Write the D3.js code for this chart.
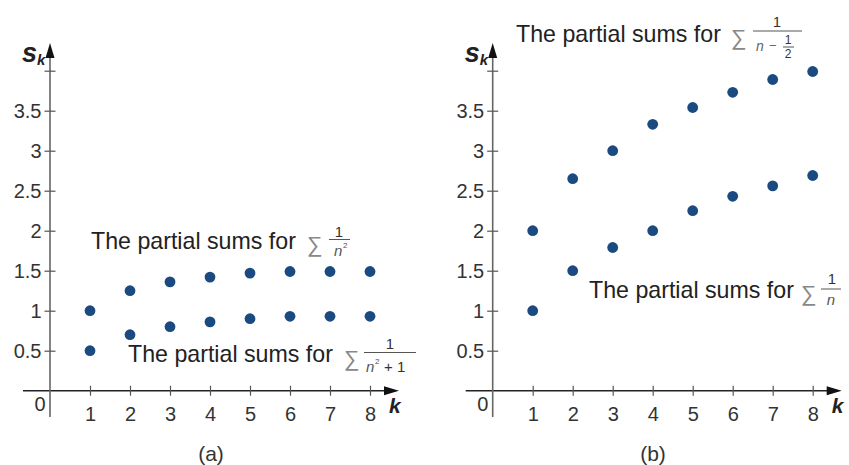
<!DOCTYPE html>
<html>
<head>
<meta charset="utf-8">
<script src="https://cdn.jsdelivr.net/npm/d3@7"></script>
<style>
  html, body { margin: 0; padding: 0; background: #fff; }
  svg { display: block; }
  text { font-family: "Liberation Sans", Arial, sans-serif; }
</style>
</head>
<body>
<svg id="chart" width="849" height="465"></svg>
<script>
// ---------- data ----------
const kValues = [1, 2, 3, 4, 5, 6, 7, 8];
// panel (a)
const sumInvSquare = [1, 1.25, 1.36, 1.42, 1.47, 1.49, 1.49, 1.49];
const sumInvSquarePlusOne = [0.5, 0.7, 0.8, 0.86, 0.9, 0.93, 0.93, 0.93];
// panel (b)
const sumInvNMinusHalf = [2, 2.65, 3.0, 3.33, 3.54, 3.73, 3.89, 3.99];
const sumInvN = [1, 1.5, 1.79, 2.0, 2.25, 2.43, 2.56, 2.69];
const yTickValues = [0.5, 1, 1.5, 2, 2.5, 3, 3.5, 4];
const yTickLabels = ["0.5", "1", "1.5", "2", "2.5", "3", "3.5", ""];
const panelLabels = ["(a)", "(b)"];

// ---------- layout ----------
const svg = d3.select("#chart");
const dotColor = "#1b4a80";
const yScale = d3.scaleLinear().domain([0, 4]).range([390.7, 70.7]);

function drawPanel(x0, seriesList, panelLabel, labelCx) {
  const g = svg.append("g");
  const xScale = d3.scaleLinear().domain([0, 8]).range([x0, x0 + 320]);
  const yAxisY0 = yScale(0);

  // x axis line + arrow
  g.append("line").attr("x1", x0 - 27).attr("x2", x0 + 336)
    .attr("y1", yAxisY0).attr("y2", yAxisY0)
    .attr("stroke", "#222").attr("stroke-width", 1.4);
  g.append("path")
    .attr("d", `M${x0 + 349},${yAxisY0} L${x0 + 334},${yAxisY0 - 4.5} L${x0 + 334},${yAxisY0 + 4.5} Z`)
    .attr("fill", "#111");

  // y axis line + arrow
  g.append("line").attr("x1", x0).attr("x2", x0)
    .attr("y1", 417).attr("y2", 55)
    .attr("stroke", "#666").attr("stroke-width", 1.6);
  g.append("path")
    .attr("d", `M${x0},43 L${x0 - 4.5},58 L${x0 + 4.5},58 Z`)
    .attr("fill", "#111");

  // x axis ticks via d3 axis
  const xAxis = d3.axisBottom(xScale).tickValues(kValues)
    .tickSize(5).tickPadding(11).tickFormat(d3.format("d"));
  const xg = g.append("g").attr("transform", `translate(0,${yAxisY0})`).call(xAxis);
  xg.select(".domain").remove();
  xg.selectAll(".tick line").attr("y1", -5).attr("y2", 5)
    .attr("stroke", "#555").attr("stroke-width", 1.2);
  xg.selectAll(".tick text").attr("font-size", 20).attr("fill", "#333");

  // y axis ticks via d3 axis
  const yAxis = d3.axisLeft(yScale).tickValues(yTickValues)
    .tickSize(5.5).tickPadding(3)
    .tickFormat((d, i) => yTickLabels[i]);
  const yg = g.append("g").attr("transform", `translate(${x0},0)`).call(yAxis);
  yg.select(".domain").remove();
  yg.selectAll(".tick line").attr("x1", -5.5).attr("x2", 5.5)
    .attr("stroke", "#555").attr("stroke-width", 1.2);
  yg.selectAll(".tick text").attr("font-size", 20).attr("fill", "#333");

  // origin label
  g.append("text").attr("x", x0 - 10).attr("y", 411).attr("text-anchor", "middle")
    .attr("font-size", 20).attr("fill", "#333").text("0");

  // axis titles
  const st = g.append("text").attr("x", x0 - 28).attr("y", 62)
    .attr("font-weight", "bold").attr("font-style", "italic").attr("fill", "#222");
  st.append("tspan").attr("font-size", 27).text("s");
  st.append("tspan").attr("font-size", 15).attr("dy", 3).text("k");
  g.append("text").attr("x", x0 + 339).attr("y", 413)
    .attr("font-weight", "bold").attr("font-style", "italic")
    .attr("font-size", 21).attr("fill", "#222").text("k");

  // dots
  seriesList.forEach(vals => {
    g.selectAll(null).data(vals).join("circle")
      .attr("cx", (d, i) => xScale(kValues[i]))
      .attr("cy", d => yScale(d))
      .attr("r", 5.4)
      .attr("fill", dotColor);
  });

  // panel label
  svg.append("text").attr("x", labelCx).attr("y", 461).attr("text-anchor", "middle")
    .attr("font-size", 21).attr("fill", "#333").text(panelLabel);
}

drawPanel(50, [sumInvSquare, sumInvSquarePlusOne], panelLabels[0], 211);
drawPanel(492.7, [sumInvNMinusHalf, sumInvN], panelLabels[1], 653);

// ---------- annotations ----------
const textColor = "#222";
const sigmaColor = "#888";
function txt(x, y, s, opts = {}) {
  const t = svg.append("text").attr("x", x).attr("y", y)
    .attr("font-size", opts.size || 23.2).attr("fill", opts.color || textColor)
    .attr("text-anchor", opts.anchor || "start");
  if (opts.italic) t.attr("font-style", "italic");
  t.text(s);
  return t;
}
function bar(x1, x2, y) {
  svg.append("line").attr("x1", x1).attr("x2", x2).attr("y1", y).attr("y2", y)
    .attr("stroke", "#555").attr("stroke-width", 1);
}
const caption = "The partial sums for";

// left upper: sum 1/n^2
txt(91, 249, caption);
txt(307, 252, "∑", { color: sigmaColor, size: 22 });
txt(339, 237, "1", { size: 15, anchor: "middle", color: "#333" });
bar(329, 350, 239.5);
txt(334, 256, "n", { size: 15, italic: true, color: "#555" });
txt(343, 248, "2", { size: 8, color: "#555" });

// left lower: sum 1/(n^2+1)
txt(128, 362, caption);
txt(344, 366, "∑", { color: sigmaColor, size: 22 });
txt(390, 349, "1", { size: 15, anchor: "middle", color: "#333" });
bar(364, 416, 352.5);
txt(366, 372, "n", { size: 15, italic: true, color: "#555" });
txt(375, 364, "2", { size: 8, color: "#555" });
txt(384, 372, "+ 1", { size: 15, color: "#333" });

// right upper: sum 1/(n - 1/2)
txt(516, 42, caption);
txt(731, 45, "∑", { color: sigmaColor, size: 22 });
txt(777, 27, "1", { size: 15, anchor: "middle", color: "#333" });
bar(753, 802, 31);
txt(756, 51, "n", { size: 14, italic: true, color: "#666" });
txt(769, 50, "−", { size: 13, color: "#666" });
txt(788, 44, "1", { size: 12, anchor: "middle", color: "#333" });
bar(783, 794, 47);
txt(788, 58, "2", { size: 12, anchor: "middle", color: "#333" });

// right lower: sum 1/n
txt(589, 298, caption);
txt(801, 301, "∑", { color: sigmaColor, size: 22 });
txt(832, 284, "1", { size: 15, anchor: "middle", color: "#333" });
bar(821, 841, 289);
txt(831, 305, "n", { size: 15, italic: true, anchor: "middle", color: "#555" });
</script>
</body>
</html>
